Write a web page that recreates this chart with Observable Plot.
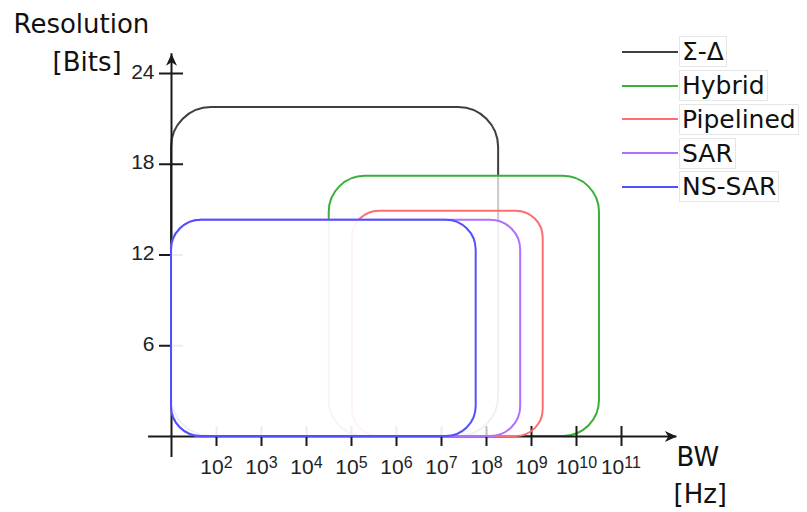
<!DOCTYPE html>
<html><head><meta charset="utf-8">
<script src="https://cdn.jsdelivr.net/npm/d3@7"></script>
<script src="https://cdn.jsdelivr.net/npm/@observablehq/plot@0.6"></script>
<style>
body{margin:0;background:#fff;}
#wrap{position:relative;width:807px;height:512px;overflow:hidden;}
#legend{position:absolute;left:622px;top:35px;font-family:"DejaVu Sans";font-size:25px;color:#111;}
.row{display:flex;align-items:center;height:33.75px;}
.swatch{width:56px;height:2px;}
.lab{margin-left:1px;border:1px solid #e6e6e6;line-height:29px;padding:0 2px;white-space:nowrap;}
g[aria-label="axis title"] text{letter-spacing:0.6px;}
</style></head><body><div id="wrap"></div>
<script>
// ---- data ----
const series      = ["Σ-Δ", "Hybrid", "Pipelined", "SAR", "NS-SAR"];
const seriesColors = ["#404040", "#38b038", "#ff6e6e", "#b070ff", "#5050ff"];
const bwMin  = [1e1, 3.2e4, 1.05e5, 1e1, 1e1];          // Hz
const bwMax  = [1.86e8, 3.24e10, 1.82e9, 5.75e8, 5.9e7]; // Hz
const resMin = [0, 0, 0, 0, 0];                          // bits
const resMax = [21.75, 17.2, 14.9, 14.3, 14.3];          // bits
const xTickExps   = [2, 3, 4, 5, 6, 7, 8, 9, 10, 11];    // 10^k Hz
const yTickValues = [6, 12, 18, 24];                      // bits
const yTitle = ["Resolution", "[Bits]"];
const xTitle = ["BW", "[Hz]"];

// ---- build ----
const rows = series.map((name, i) => ({name, color: seriesColors[i], x1: bwMin[i], x2: bwMax[i], y1: resMin[i], y2: resMax[i]}));
const look = {
  "Σ-Δ":      {r: 40, fill: "none"},
  "Hybrid":   {r: 36, fill: "white"},
  "Pipelined":{r: 27, fill: "none"},
  "SAR":      {r: 30, fill: "white"},
  "NS-SAR":   {r: 30, fill: "white"}
};
const rectMark = d => Plot.rect([d], {x1: "x1", x2: "x2", y1: "y1", y2: "y2",
  stroke: d.color, strokeWidth: 2, fill: look[d.name].fill, fillOpacity: 0.72, rx: look[d.name].r});

const xStart = 10 ** 0.49, xTip = 10 ** 12.23;
const yStart = -1.39, yTip = 25.3;
const dart = {draw(ctx) { ctx.moveTo(0, 0); ctx.lineTo(-5.5, 12); ctx.lineTo(0, 8.5); ctx.lineTo(5.5, 12); ctx.closePath(); }};
const axisColor = "#1a1a1a";
const title = (t, dx, dy) => Plot.text([t], {frameAnchor: "top-left", lineAnchor: "middle", text: d => d, dx, dy,
  textAnchor: "start", fontFamily: "DejaVu Sans", fontSize: 26, fill: "#111", ariaLabel: "axis title"});
const one = xTickExps.filter(e => e < 10), two = xTickExps.filter(e => e >= 10);

const chart = Plot.plot({
  width: 807, height: 512,
  marginTop: 0, marginRight: 0, marginBottom: 0, marginLeft: 0,
  x: {type: "log", domain: [10, 1e11], range: [171, 621], axis: null},
  y: {type: "linear", domain: [0, 24], range: [436, 73], axis: null},
  style: {fontFamily: "Liberation Sans", background: "white", color: "#1a1a1a", overflow: "visible"},
  marks: [
    rectMark(rows[0]),
    rectMark(rows[1]),
    // axes
    Plot.ruleY([0], {y: d => d, x1: () => xStart, x2: () => xTip, stroke: axisColor, strokeWidth: 2}),
    Plot.ruleX([10], {x: d => d, y1: () => yStart, y2: () => yTip, stroke: axisColor, strokeWidth: 2}),
    Plot.ruleX(xTickExps, {x: e => 10 ** e, y1: () => -0.66, y2: () => 0.66, stroke: axisColor, strokeWidth: 2}),
    Plot.ruleY(yTickValues, {y: v => v, x1: () => 10 ** (1 - 12 / 45), x2: () => 10 ** (1 + 12 / 45), stroke: axisColor, strokeWidth: 2}),
    Plot.dot([{x: xTip, y: 0, rot: 90}, {x: 10, y: yTip, rot: 0}], {x: "x", y: "y", rotate: "rot", symbol: dart, r: 6, fill: axisColor, stroke: "none"}),
    rectMark(rows[2]),
    rectMark(rows[3]),
    rectMark(rows[4]),
    // tick labels
    Plot.text(one, {x: e => 10 ** e, y: () => 0, text: () => "10", textAnchor: "end", dx: 7.2, dy: 30.3, fontSize: 21, fill: "#222"}),
    Plot.text(one, {x: e => 10 ** e, y: () => 0, text: e => String(e), textAnchor: "start", dx: 7.2, dy: 25.9, fontSize: 16, fill: "#222"}),
    Plot.text(two, {x: e => 10 ** e, y: () => 0, text: () => "10", textAnchor: "end", dx: 2.8, dy: 30.3, fontSize: 21, fill: "#222"}),
    Plot.text(two, {x: e => 10 ** e, y: () => 0, text: e => String(e), textAnchor: "start", dx: 2.8, dy: 25.9, fontSize: 16, fill: "#222"}),
    Plot.text(yTickValues, {x: () => 10, y: v => v, text: v => String(v), textAnchor: "end", dx: -17, dy: -1.5, fontSize: 21, fill: "#222"}),
    // axis titles
    title(yTitle[0], 13, 23.7),
    title(yTitle[1], 52, 61.7),
    title(xTitle[0], 676, 456.7),
    title(xTitle[1], 673, 493.7)
  ]
});

const wrap = document.getElementById("wrap");
wrap.appendChild(chart);
const legend = document.createElement("div");
legend.id = "legend";
series.forEach((name, i) => {
  const row = document.createElement("div");
  row.className = "row";
  const sw = document.createElement("span");
  sw.className = "swatch";
  sw.style.background = seriesColors[i];
  const lab = document.createElement("span");
  lab.className = "lab";
  lab.textContent = name;
  row.appendChild(sw); row.appendChild(lab);
  legend.appendChild(row);
});
wrap.appendChild(legend);
</script></body></html>
